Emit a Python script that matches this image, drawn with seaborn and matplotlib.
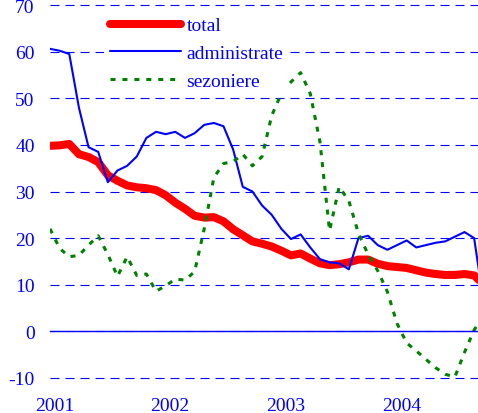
import numpy as np
import pandas as pd
import matplotlib
matplotlib.use("Agg")
import matplotlib.pyplot as plt
import seaborn as sns

# monthly values, Jan 2001 .. Oct 2004
months = list(range(46))
total = [39.8, 39.9, 40.2, 38.0, 37.4, 36.3, 33.5, 32.3, 31.3, 30.9, 30.7, 30.3,
         29.2, 27.6, 26.3, 24.8, 24.4, 24.5, 23.6, 21.9, 20.6, 19.3, 18.8, 18.2,
         17.3, 16.3, 16.7, 15.6, 14.6, 14.2, 14.4, 14.8, 15.4, 15.4, 14.5, 14.0,
         13.8, 13.6, 13.1, 12.6, 12.3, 12.1, 12.1, 12.3, 12.0, 10.0]
administrate = [60.6, 60.2, 59.5, 48.0, 39.5, 38.5, 32.0, 34.5, 35.5, 37.5, 41.5, 42.8,
                42.3, 42.8, 41.5, 42.5, 44.3, 44.7, 44.0, 39.0, 31.0, 30.0, 27.0, 25.0,
                22.0, 19.8, 20.8, 18.0, 15.5, 14.8, 14.6, 13.3, 20.0, 20.5, 18.5, 17.5,
                18.5, 19.5, 18.0, 18.5, 19.0, 19.3, 20.3, 21.3, 20.0, 6.0]
sezoniere = [22.0, 17.8, 16.0, 16.3, 18.5, 20.5, 16.5, 11.8, 16.0, 12.0, 12.3, 8.6,
             9.8, 11.2, 11.0, 12.8, 22.0, 33.0, 36.0, 36.4, 38.0, 35.5, 37.5, 46.3,
             51.0, 53.5, 55.5, 51.0, 40.7, 21.6, 31.0, 28.0, 21.0, 16.5, 13.0, 8.5,
             1.7, -2.5, -4.2, -6.0, -7.8, -9.2, -9.8, -4.5, 0.3, 3.5]
year_ticks = [0, 12, 24, 36]
year_labels = ["2001", "2002", "2003", "2004"]
y_ticks = list(range(-10, 71, 10))

df = pd.DataFrame({"month": months, "total": total,
                   "administrate": administrate, "sezoniere": sezoniere})

sns.set_style("white")
plt.rcParams["font.family"] = ["Liberation Serif", "DejaVu Serif"]
plt.rcParams["lines.scale_dashes"] = False
plt.rcParams["axes.unicode_minus"] = False

fig = plt.figure(figsize=(4.78, 4.14), dpi=100)
ax = fig.add_axes([50 / 478, (414 - 381.3) / 414, 428 / 478, (381.3 - 3.7) / 414])

sns.lineplot(data=df, x="month", y="total", color="#ff0000", lw=5.8,
             label="total", ax=ax)
sns.lineplot(data=df, x="month", y="administrate", color="#0000ff", lw=1.5,
             label="administrate", ax=ax)
sns.lineplot(data=df, x="month", y="sezoniere", color="#008000", lw=2.2,
             linestyle=(0, (3.6, 5.0)), label="sezoniere", ax=ax)

ax.set_xlim(0, 44.4)
ax.set_ylim(-10.5, 70.5)
ax.set_xlabel("")
ax.set_ylabel("")

# y axis: labels only, dashed blue grid
ax.set_yticks(y_ticks)
ax.tick_params(axis="y", length=0, pad=11, labelcolor="#0000ff", labelsize=14)
ax.yaxis.grid(True, color="#0000ff", linestyle=(0, (6.5, 4.3)), lw=0.8)
ax.xaxis.grid(False)
ax.set_axisbelow(True)

# x axis line sits at zero, year labels at the bottom
for s in ["left", "right", "top"]:
    ax.spines[s].set_visible(False)
ax.spines["bottom"].set_position(("data", 0))
ax.spines["bottom"].set_color("#0000ff")
ax.spines["bottom"].set_linewidth(1.0)
ax.set_xticks(year_ticks)
ax.set_xticklabels([])
ax.tick_params(axis="x", which="major", direction="in", length=3.6, width=1.0,
               color="#0000ff")
ax.set_xticks([t + 0.45 for t in year_ticks], minor=True)
ax.set_xticklabels(year_labels, minor=True)
ax.tick_params(axis="x", which="minor", length=0, pad=47, labelcolor="#0000ff",
               labelsize=14)

ax.legend(loc="upper left", bbox_to_anchor=(0.127, 0.978), borderaxespad=0,
          frameon=True, fancybox=False, edgecolor="none", facecolor="white",
          framealpha=1, fontsize=14, labelcolor="#0000ff", handlelength=3.65,
          handletextpad=0.27, labelspacing=0.52, borderpad=0.3)

fig.savefig("out.png", dpi=100)
